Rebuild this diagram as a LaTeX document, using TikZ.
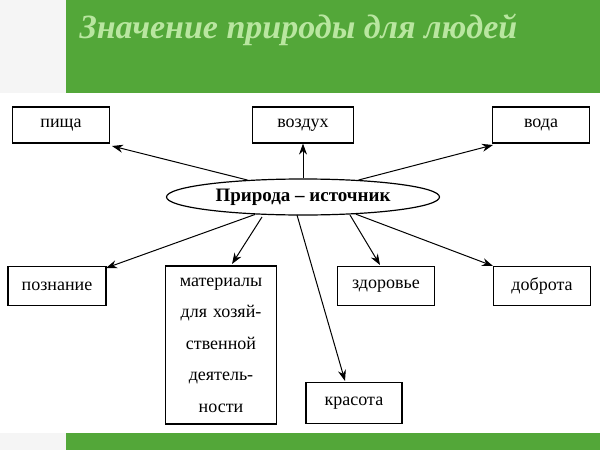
\documentclass[tikz,border=0pt]{standalone}
\usepackage{fontspec}
\setmainfont{Liberation Serif}
\usetikzlibrary{shapes.geometric,arrows.meta}
\begin{document}
\begin{tikzpicture}[x=1pt,y=-1pt,
  box/.style={draw,line width=1.2pt,minimum height=36pt,align=center,font=\fontsize{18}{20}\selectfont},
  arr/.style={-{Stealth[length=11pt,width=8pt]},line width=1pt}]
\useasboundingbox (0,0) rectangle (600,450);
\fill[gray!8] (0,0) rectangle (66,93);
\fill[white] (0,93) rectangle (600,433);
\fill[gray!8] (0,433) rectangle (66,450);
\fill[fill={rgb,255:red,83;green,167;blue,57}] (66,0) rectangle (600,93);
\fill[fill={rgb,255:red,83;green,167;blue,57}] (66,433) rectangle (600,450);
\node[anchor=west,text={rgb,255:red,185;green,230;blue,160},font=\fontsize{34}{36}\selectfont\bfseries\itshape] (title) at (76,30) {Значение природы для людей};
\node[box,minimum width=97pt] (pisha) at (61,125) {пища};
\node[box,minimum width=101pt] (vozd) at (303,125) {воздух};
\node[box,minimum width=97pt] (voda) at (541,125) {вода};
\node[draw,ellipse,line width=1.2pt,minimum width=273pt,minimum height=36pt,inner sep=0pt,font=\fontsize{19}{20}\selectfont\bfseries] (pr) at (303,197) {Природа – источник};
\node[box,minimum width=98pt,minimum height=39pt] (pozn) at (57,286) {познание};
\node[box,text width=104pt,minimum height=158pt,font=\fontsize{18}{31.5}\selectfont] (mat) at (221,345) {материалы\\для хозяй-\\ственной\\деятель-\\ности};
\node[box,minimum width=97pt,minimum height=39pt] (zd) at (386,286) {здоровье};
\node[box,minimum width=97pt,minimum height=39pt] (dobr) at (542,286) {доброта};
\node[box,minimum width=96pt,minimum height=41pt] (kras) at (354,403) {красота};
\draw[arr] (pr.163) -- (112,146);
\draw[arr] (pr.north) -- (vozd.south);
\draw[arr] (pr.17) -- (493,145);
\draw[arr] (pr.200) -- (106,268);
\draw[arr] (262,217) -- (232,264);
\draw[arr] (297,215) -- (345,381);
\draw[arr] (350,215) -- (380,265);
\draw[arr] (pr.-18) -- (493,266);
\end{tikzpicture}
\end{document}
